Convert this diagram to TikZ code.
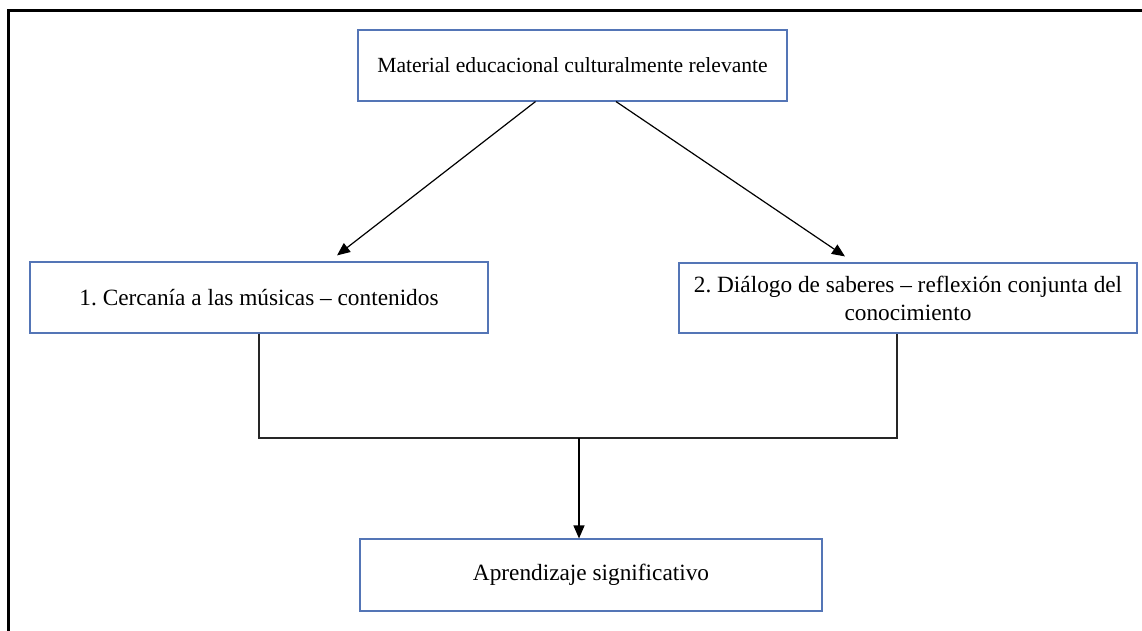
\documentclass[tikz,border=0pt]{standalone}
\usepackage{fontspec}
\setmainfont{Liberation Serif}
\usetikzlibrary{arrows.meta}
\definecolor{boxblue}{RGB}{84,117,182}
\begin{document}
\frenchspacing
\begin{tikzpicture}[x=1pt,y=1pt,
  box/.style={draw=boxblue,line width=1.1pt,minimum height=71pt,inner sep=0pt,
    align=center,font=\fontsize{23.3}{28}\selectfont},
  arr/.style={line width=1.2pt,-{Triangle[length=13pt,width=11pt]}},
  link/.style={line width=1.3pt,black!85}]
 \useasboundingbox (0,0) rectangle (1142,631);
 \draw[line width=3pt] (8,0)--(8,620)--(1142,620);
 \node[box,minimum width=429pt,font=\fontsize{21.6}{28}\selectfont] (top) at (572.5,565.5) {Material educacional culturalmente relevante};
 \node[box,minimum width=458pt] (cerca) at (259,333.5) {1. Cercanía a las músicas – contenidos};
 \node[box,minimum width=458pt,minimum height=70pt] (dialogo) at (908,333) {2. Diálogo de saberes – reflexión conjunta del\\conocimiento};
 \node[box,minimum width=462pt,minimum height=72pt] (aprend) at (591,56) {Aprendizaje significativo};
 \coordinate (junta) at (579,193);
 \draw[arr] ([xshift=-37pt]top.south)--([xshift=78pt,yshift=6pt]cerca.north);
 \draw[arr] ([xshift=43.5pt]top.south)--([xshift=-63pt,yshift=6pt]dialogo.north);
 \draw[link] (cerca.south) |- (junta) -| ([xshift=-11pt]dialogo.south);
 \draw[arr] (junta)--(junta |- aprend.north);
\end{tikzpicture}
\end{document}
